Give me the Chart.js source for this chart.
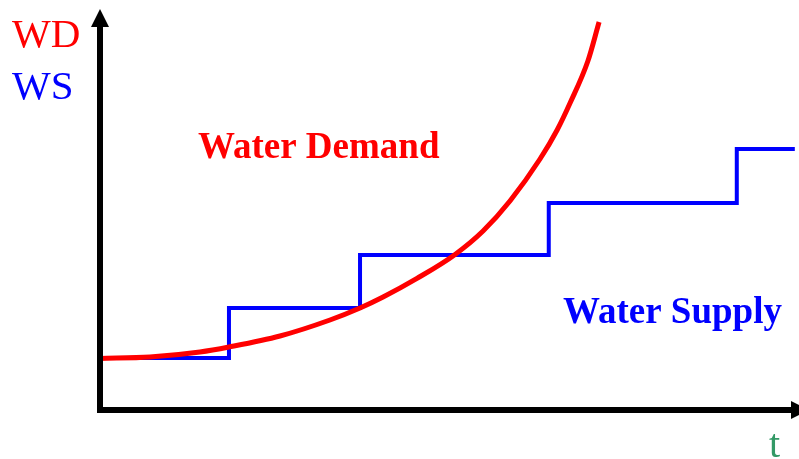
<!DOCTYPE html>
<html>
<head>
<meta charset="utf-8">
<script src="https://cdn.jsdelivr.net/npm/chart.js@4.4.0/dist/chart.umd.min.js"></script>
<style>
  html, body { margin: 0; padding: 0; background: #fff; }
  #wrap { width: 799px; height: 459px; }
</style>
</head>
<body>
<div id="wrap"><canvas id="myChart" width="799" height="459"></canvas></div>
<script>
// water demand curve (t, WD)
const demandT = [0, 7.15, 14.3, 18.45, 25.75, 32.9, 37.2, 40.5, 45.35, 50.8, 54.8, 58.65, 62.95, 65.4, 67.25, 69.8, 71.4];
const demandValues = [12.9, 13.25, 14.5, 15.75, 18.5, 22.5, 25.5, 28.25, 32.9, 38.9, 44.75, 52.25, 62.75, 70, 76.75, 87.25, 97];

// water supply steps (t where the level starts, WS)
const supplyT = [0, 18.45, 37.2, 64.2, 91.1, 99.4];
const supplyValues = [13, 25.5, 38.75, 51.75, 65.25, 65.25];

const labels = {
    demand: 'Water Demand',
    supply: 'Water Supply',
    wd: 'WD',
    ws: 'WS',
    t: 't'
};

const serif = '"Liberation Serif", "Times New Roman", serif';

// draws the arrow axes and the text on top
const axesPlugin = {
    id: 'axesPlugin',
    afterDatasetsDraw(chart) {
        const ctx = chart.ctx;
        const xs = chart.scales.x, ys = chart.scales.y;
        const x0 = xs.getPixelForValue(0);
        const y0 = ys.getPixelForValue(0);
        ctx.save();
        ctx.strokeStyle = '#000';
        ctx.fillStyle = '#000';
        ctx.lineWidth = 6;
        ctx.lineCap = 'butt';
        ctx.beginPath();
        ctx.moveTo(x0, y0 + 3);
        ctx.lineTo(x0, 26);
        ctx.moveTo(x0 - 3, y0);
        ctx.lineTo(792, y0);
        ctx.stroke();
        // arrow heads
        ctx.beginPath();
        ctx.moveTo(x0, 9);
        ctx.lineTo(x0 - 9, 27);
        ctx.lineTo(x0 + 9, 27);
        ctx.closePath();
        ctx.fill();
        ctx.beginPath();
        ctx.moveTo(809, y0);
        ctx.lineTo(791, y0 - 9);
        ctx.lineTo(791, y0 + 9);
        ctx.closePath();
        ctx.fill();

        ctx.textBaseline = 'alphabetic';
        ctx.textAlign = 'left';
        ctx.font = '41px ' + serif;
        ctx.fillStyle = '#ff0000';
        ctx.fillText(labels.wd, 12, 47);
        ctx.fillStyle = '#0000ff';
        ctx.fillText(labels.ws, 12, 99);
        ctx.fillStyle = '#339966';
        ctx.font = '40px ' + serif;
        ctx.fillText(labels.t, 769, 457);

        ctx.font = 'bold 37px ' + serif;
        ctx.fillStyle = '#ff0000';
        ctx.fillText(labels.demand, 198, 158);
        ctx.fillStyle = '#0000ff';
        ctx.fillText(labels.supply, 563, 323);
        ctx.restore();
    }
};

const ctx = document.getElementById('myChart').getContext('2d');
const myChart = new Chart(ctx, {
    type: 'line',
    data: {
        datasets: [{
            label: labels.demand,
            data: demandT.map((t, i) => ({ x: t, y: demandValues[i] })),
            borderColor: '#ff0000',
            borderWidth: 5,
            cubicInterpolationMode: 'monotone',
            pointRadius: 0,
            fill: false,
            clip: false,
            order: 0
        }, {
            label: labels.supply,
            data: supplyT.map((t, i) => ({ x: t, y: supplyValues[i] })),
            borderColor: '#0000ff',
            borderWidth: 4,
            stepped: 'before',
            pointRadius: 0,
            fill: false,
            clip: false,
            order: 1
        }]
    },
    options: {
        responsive: false,
        animation: false,
        layout: { padding: { left: 100, right: 0, top: 10, bottom: 49 } },
        plugins: {
            legend: { display: false },
            tooltip: { enabled: false }
        },
        scales: {
            x: { type: 'linear', min: 0, max: 100, display: false },
            y: { type: 'linear', min: 0, max: 100, display: false }
        }
    },
    plugins: [axesPlugin]
});
</script>
</body>
</html>
